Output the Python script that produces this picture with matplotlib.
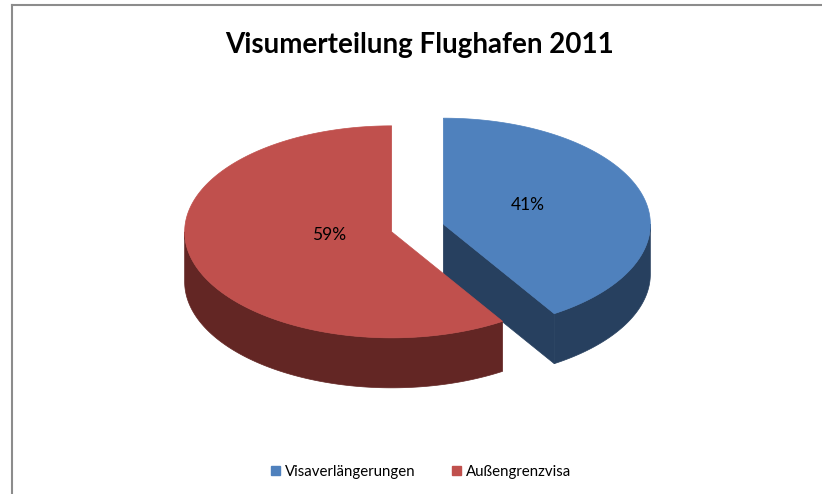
import numpy as np
import matplotlib.pyplot as plt
from matplotlib.patches import Polygon, Patch
from matplotlib.lines import Line2D

# data
title = "Visumerteilung Flughafen 2011"
labels = ["Visaverlängerungen", "Außengrenzvisa"]
shares = [41, 59]
top_colors = ["#4F81BD", "#C0504D"]
side_colors = ["#27405F", "#632624"]

plt.rcParams['font.family'] = ['Lato', 'DejaVu Sans']

# layout of the 3d pie (pixel space)
W, H = 822, 494
CX, CY = 417.5, 228
RX, RY = 207, 106
DEPTH = 50
EXPLODE = 0.13
LABEL_R = 0.37
LABEL_SHIFT = (11, -8)


def arc(cx, cy, t0, t1, n=200):
    t = np.linspace(t0, t1, n)
    return np.column_stack([cx + RX * np.sin(t), cy - RY * np.cos(t)])


def main():
    fig = plt.figure(figsize=(W / 100, H / 100), dpi=100)
    ax = fig.add_axes([0, 0, 1, 1])
    ax.set_xlim(0, W)
    ax.set_ylim(H, 0)
    ax.axis("off")

    total = sum(shares)
    bounds = np.concatenate([[0], np.cumsum(shares)]) / total * 2 * np.pi
    slices = []
    for i in range(len(shares)):
        t0, t1 = bounds[i], bounds[i + 1]
        tm = (t0 + t1) / 2
        cx = CX + EXPLODE * RX * np.sin(tm)
        cy = CY - EXPLODE * RY * np.cos(tm)
        slices.append((cy, i, t0, t1, tm, cx))

    # back to front
    for cy, i, t0, t1, tm, cx in sorted(slices):
        down = np.array([0, DEPTH])
        # outer wall (front half only)
        a0, a1 = max(t0, np.pi / 2), min(t1, 3 * np.pi / 2)
        if a1 > a0:
            top = arc(cx, cy, a0, a1)
            ax.add_patch(Polygon(np.vstack([top, (top + down)[::-1]]),
                                 closed=True, fc=side_colors[i], ec=side_colors[i], lw=0.5))
        # cut faces
        for t, nrm in ((t1, t1 + np.pi / 2), (t0, t0 - np.pi / 2)):
            if np.cos(nrm) < -1e-6:
                p = np.array([cx + RX * np.sin(t), cy - RY * np.cos(t)])
                c = np.array([cx, cy])
                ax.add_patch(Polygon([c, p, p + down, c + down], closed=True,
                                     fc=side_colors[i], ec=side_colors[i], lw=0.5))
        # top face
        pts = np.vstack([[cx, cy], arc(cx, cy, t0, t1)])
        ax.add_patch(Polygon(pts, closed=True, fc=top_colors[i], ec=top_colors[i], lw=0.5))
        lx = cx + LABEL_R * RX * np.sin(tm) + LABEL_SHIFT[0]
        ly = cy - LABEL_R * RY * np.cos(tm) + LABEL_SHIFT[1]
        ax.text(lx, ly, f"{shares[i]}%", ha="center", va="center", fontsize=12.5, color="black")

    ax.text(420, 45, title, ha="center", va="center", fontsize=20, fontweight="bold")

    handles = [Patch(fc=c, ec=c) for c in top_colors]
    ax.legend(handles, labels, loc="center", bbox_to_anchor=(421 / W, 1 - 472 / H),
              ncol=2, frameon=False, fontsize=10.8, handlelength=0.6, handleheight=0.6,
              handletextpad=0.35, columnspacing=2.4)

    # chart area border (top and left only)
    fig.add_artist(Line2D([11.5 / W, 1], [1 - 5.5 / H, 1 - 5.5 / H], color="#8c8c8c", lw=1.5))
    fig.add_artist(Line2D([11.5 / W, 11.5 / W], [0, 1 - 5.5 / H], color="#8c8c8c", lw=1.5))

    fig.savefig("out.png", dpi=100)


if __name__ == "__main__":
    main()
